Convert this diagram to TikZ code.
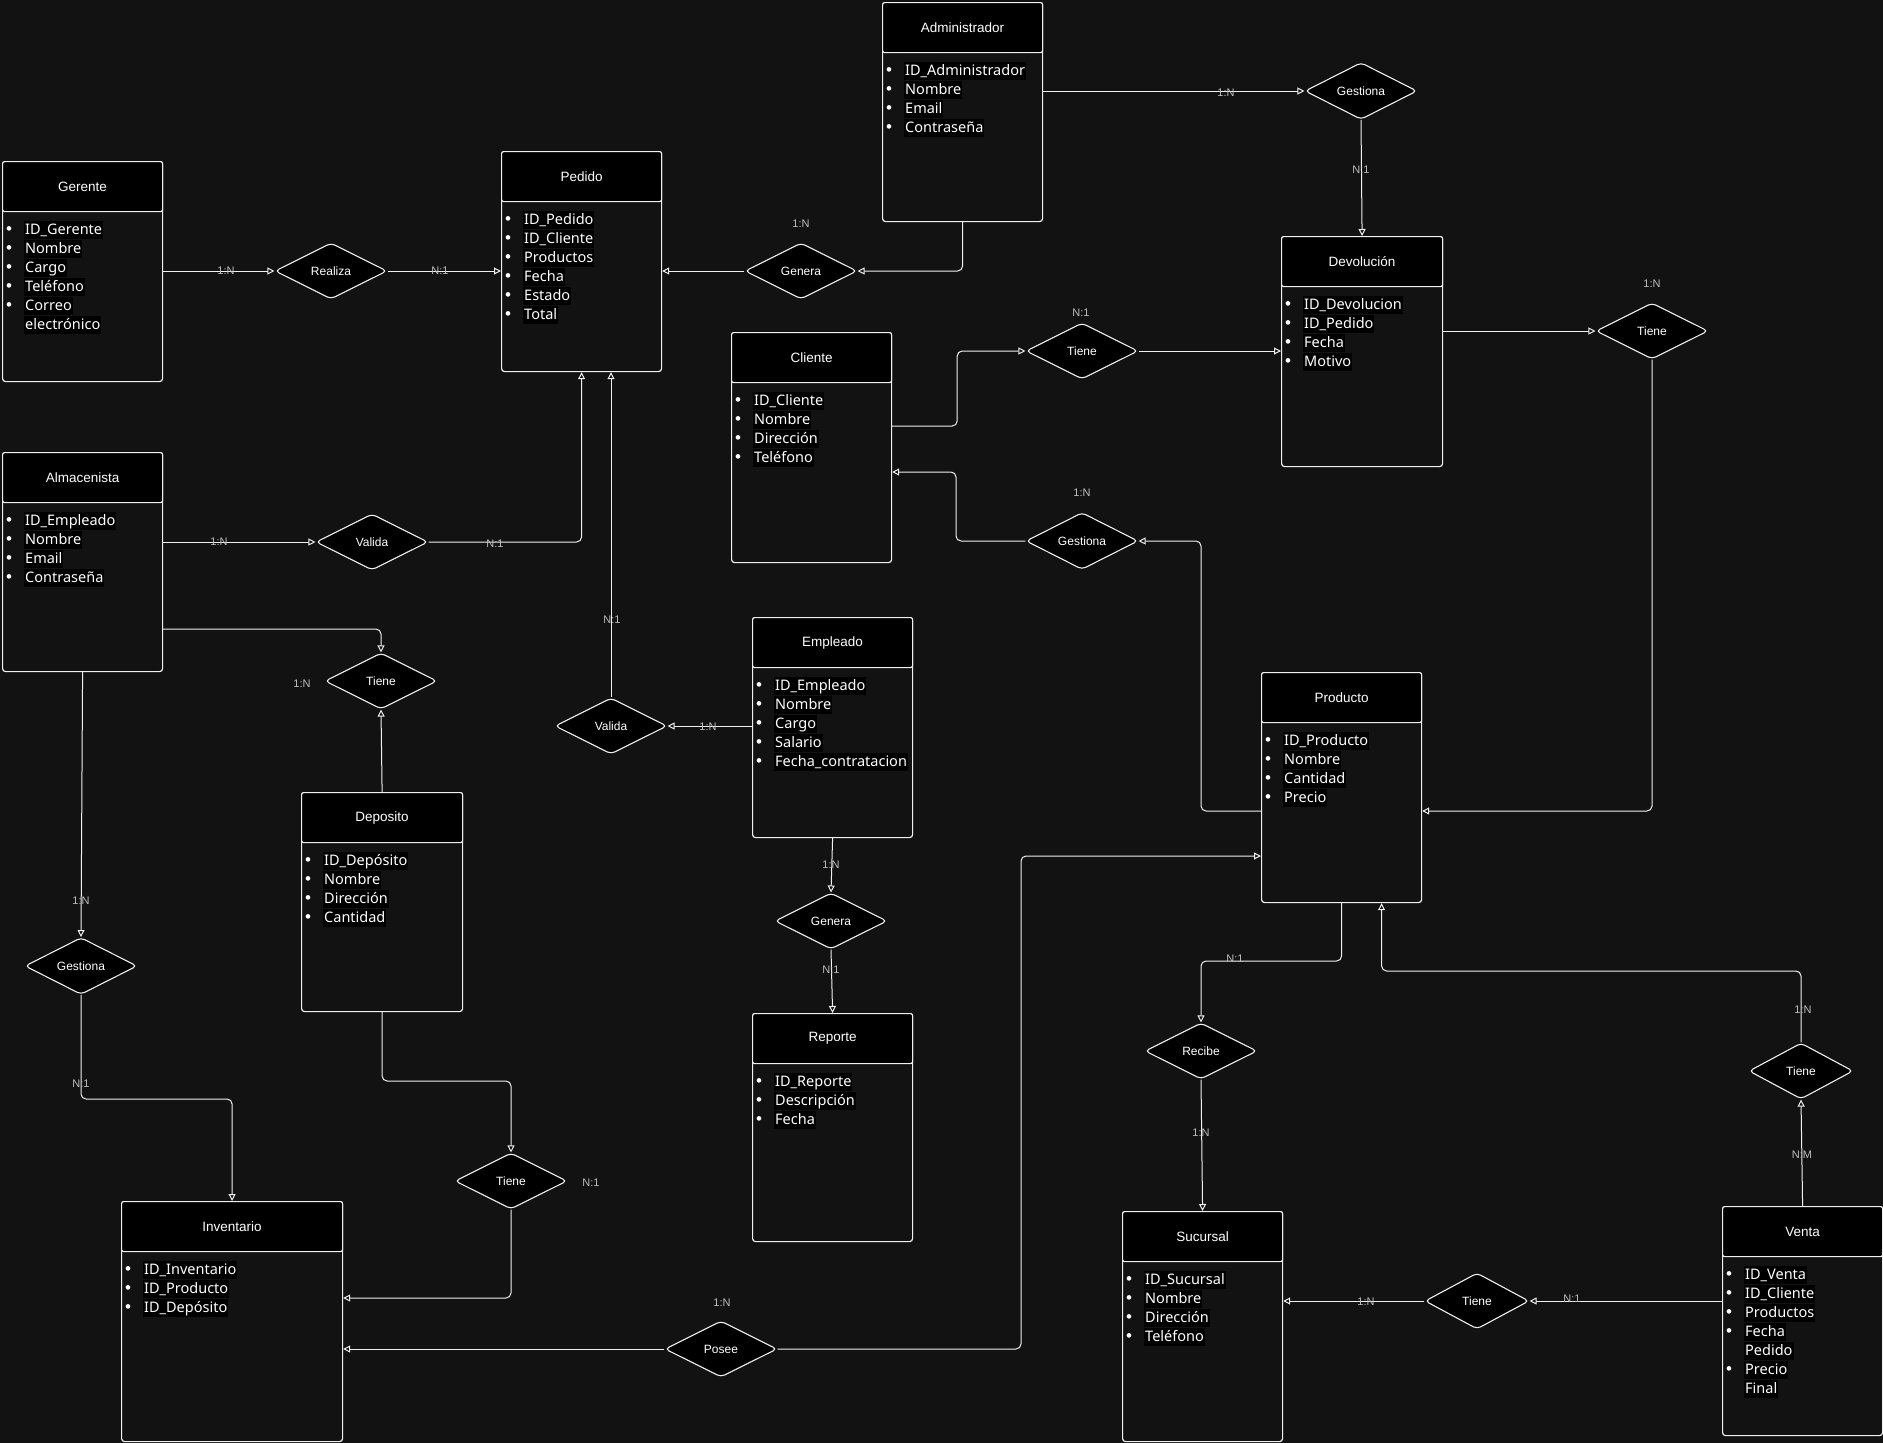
\documentclass[tikz,border=0pt]{standalone}
\usepackage{fontspec}
\setmainfont{Liberation Sans}
\newfontfamily\attrfont{Noto Sans}
\usepackage{xcolor}
\usepackage{tikz}
\usetikzlibrary{arrows.meta, shapes.geometric, positioning}

\definecolor{fondo}{RGB}{18,18,18}
\definecolor{linea}{RGB}{240,240,240}
\definecolor{etiq}{RGB}{190,190,190}

% one attribute line, with the black highlight behind the text
\newcommand{\hlbox}[1]{{\setlength{\fboxsep}{1pt}\colorbox{black}{\rule[-4pt]{0pt}{16pt}#1}}}
\newcommand{\atrib}[1]{\makebox[19pt][l]{\hspace{1pt}{\rmfamily\fontsize{17}{19}\selectfont\textbullet}}\hlbox{#1}}
\newcommand{\atribc}[1]{\hspace{19pt}\hlbox{#1}}

% entity: name, x, y, width, height, title, attributes
\newcommand{\entidad}[7]{%
  \node[entbody, minimum width=#4, minimum height=#5, anchor=north west] (#1) at (#2,#3) {};
  \node[enthead, minimum width=#4, anchor=north west] (#1-t) at (#2,#3) {#6};
  \node[attrs, anchor=north west] (#1-a) at ([xshift=3pt, yshift=-60pt]#1.north west) {#7};
}

\begin{document}
\begin{tikzpicture}[x=1pt, y=-1pt,
    entbody/.style={draw=linea, fill=fondo, line width=1.2pt, rounded corners=3pt, inner sep=0pt},
    enthead/.style={draw=linea, fill=black, line width=1.2pt, rounded corners=2pt, minimum height=50pt,
      inner sep=0pt, text=white, font=\fontsize{13.5}{16}\selectfont},
    attrs/.style={inner sep=0pt, align=left, text=white, font=\attrfont\fontsize{14.5}{19}\selectfont},
    rel/.style={diamond, draw=linea, fill=black, line width=1.1pt, minimum width=112pt, minimum height=56pt,
      inner sep=0pt, rounded corners=4pt, text=white, font=\fontsize{12}{14}\selectfont},
    card/.style={text=etiq, inner sep=1pt, font=\fontsize{11}{13}\selectfont},
    conn/.style={draw=linea, line width=1pt, rounded corners=5pt},
    arr/.style={conn, -{Triangle[open, length=7pt, width=7pt]}}]

  % canvas
  \fill[fondo] (0,0) rectangle (1883,1443);
  \useasboundingbox (0,0) rectangle (1883,1443);

  % entities
  \entidad{ger}{2}{161}{160pt}{220pt}{Gerente}{\atrib{ID\_Gerente}\\\atrib{Nombre}\\\atrib{Cargo}\\\atrib{Teléfono}\\\atrib{Correo}\\\atribc{electrónico}}
  \entidad{ped}{501}{151}{160pt}{220pt}{Pedido}{\atrib{ID\_Pedido}\\\atrib{ID\_Cliente}\\\atrib{Productos}\\\atrib{Fecha}\\\atrib{Estado}\\\atrib{Total}}
  \entidad{adm}{882}{2}{160pt}{219pt}{Administrador}{\atrib{ID\_Administrador}\\\atrib{Nombre}\\\atrib{Email}\\\atrib{Contraseña}}
  \entidad{cli}{731}{332}{160pt}{230pt}{Cliente}{\atrib{ID\_Cliente}\\\atrib{Nombre}\\\atrib{Dirección}\\\atrib{Teléfono}}
  \entidad{dev}{1281}{236}{161pt}{230pt}{Devolución}{\atrib{ID\_Devolucion}\\\atrib{ID\_Pedido}\\\atrib{Fecha}\\\atrib{Motivo}}
  \entidad{alm}{2}{452}{160pt}{219pt}{Almacenista}{\atrib{ID\_Empleado}\\\atrib{Nombre}\\\atrib{Email}\\\atrib{Contraseña}}
  \entidad{emp}{752}{617}{160pt}{220pt}{Empleado}{\atrib{ID\_Empleado}\\\atrib{Nombre}\\\atrib{Cargo}\\\atrib{Salario}\\\atrib{Fecha\_contratacion}}
  \entidad{pro}{1261}{672}{160pt}{230pt}{Producto}{\atrib{ID\_Producto}\\\atrib{Nombre}\\\atrib{Cantidad}\\\atrib{Precio}}
  \entidad{rep}{752}{1013}{160pt}{228pt}{Reporte}{\atrib{ID\_Reporte}\\\atrib{Descripción}\\\atrib{Fecha}}
  \entidad{dep}{301}{792}{161pt}{219pt}{Deposito}{\atrib{ID\_Depósito}\\\atrib{Nombre}\\\atrib{Dirección}\\\atrib{Cantidad}}
  \entidad{inv}{121}{1201}{221pt}{240pt}{Inventario}{\atrib{ID\_Inventario}\\\atrib{ID\_Producto}\\\atrib{ID\_Depósito}}
  \entidad{suc}{1122}{1211}{160pt}{230pt}{Sucursal}{\atrib{ID\_Sucursal}\\\atrib{Nombre}\\\atrib{Dirección}\\\atrib{Teléfono}}
  \entidad{ven}{1722}{1206}{160pt}{229pt}{Venta}{\atrib{ID\_Venta}\\\atrib{ID\_Cliente}\\\atrib{Productos}\\\atrib{Fecha}\\\atribc{Pedido}\\\atrib{Precio}\\\atribc{Final}}

  % relationships
  \node[rel] (rea) at (331,271) {Realiza};
  \node[rel] (genP) at (801,271) {Genera};
  \node[rel] (gesA) at (1361,91) {Gestiona};
  \node[rel] (tieCD) at (1082,351) {Tiene};
  \node[rel] (gesC) at (1082,541) {Gestiona};
  \node[rel] (tieDP) at (1652,331) {Tiene};
  \node[rel] (valA) at (372,542) {Valida};
  \node[rel] (tieAD) at (381,681) {Tiene};
  \node[rel] (valE) at (611,726) {Valida};
  \node[rel] (genE) at (831,921) {Genera};
  \node[rel] (gesI) at (81,966) {Gestiona};
  \node[rel] (tieDI) at (511,1181) {Tiene};
  \node[rel] (pos) at (721,1349) {Posee};
  \node[rel] (rec) at (1201,1051) {Recibe};
  \node[rel, minimum width=104pt] (tieSV) at (1477,1301) {Tiene};
  \node[rel, minimum width=104pt] (tieVP) at (1801,1071) {Tiene};
  \coordinate (proB) at ([xshift=40pt]pro.south);

  % connectors
  \draw[arr] (ger.east |- rea) -- (rea.west);
  \draw[arr] (rea.east) -- (ped.west |- rea);
  \draw[arr] (genP.west) -- (ped.east |- genP);
  \draw[arr] (adm.south) |- (genP.east);
  \draw[arr] (adm.east |- gesA) -- (gesA.west);
  \draw[arr] (gesA.south) -- (dev.north);
  \draw[arr] (cli.east |- 0,426) -- ++(65,0) |- (tieCD.west);
  \draw[arr] (tieCD.east) -- (dev.west |- tieCD);
  \draw[arr] (dev.east |- tieDP) -- (tieDP.west);
  \draw[arr] (tieDP.south) |- (pro.east |- 0,811);
  \draw[arr] (gesC.west) -| (956,472) -- (cli.east |- 0,472);
  \draw[arr] (pro.west |- 0,811) -| (1201,541) -- (gesC.east);
  \draw[arr] (alm.east |- valA) -- (valA.west);
  \draw[arr] (valA.east) -| (ped.south);
  \draw[arr] (valE.north) -- (valE.north |- ped.south);
  \draw[arr] (emp.west |- valE) -- (valE.east);
  \draw[arr] (alm.east |- 0,629) -| (tieAD.north);
  \draw[arr] (dep.north) -- (tieAD.south);
  \draw[arr] (alm.south) -- (gesI.north);
  \draw[arr] (gesI.south) |- (inv.north |- 0,1099) -- (inv.north);
  \draw[arr] (dep.south) |- (tieDI.north |- 0,1081) -- (tieDI.north);
  \draw[arr] (tieDI.south) |- (inv.east |- 0,1298);
  \draw[arr] (pos.west) -- (inv.east |- pos.west);
  \draw[arr] (pos.east) -| (1021,856) -- (pro.west |- 0,856);
  \draw[arr] (emp.south) -- (genE.north);
  \draw[arr] (genE.south) -- (rep.north);
  \draw[arr] (pro.south) |- (rec.north |- 0,961) -- (rec.north);
  \draw[arr] (rec.south) -- (suc.north);
  \draw[arr] (tieVP.north) |- (proB |- 0,971) -- (proB);
  \draw[arr] (ven.north) -- (tieVP.south);
  \draw[arr] (ven.west |- tieSV) -- (tieSV.east);
  \draw[arr] (tieSV.west) -- (suc.east |- tieSV);

  % cardinalities
  \node[card] (l1) at (226,271) {1:N};
  \node[card] (l2) at (440,271) {N:1};
  \node[card] (l3) at (801,224) {1:N};
  \node[card] (l4) at (1226,93) {1:N};
  \node[card] (l5) at (1361,170) {N:1};
  \node[card] (l6) at (1081,313) {N:1};
  \node[card] (l7) at (1652,284) {1:N};
  \node[card] (l8) at (1082,493) {1:N};
  \node[card] (l9) at (219,542) {1:N};
  \node[card] (l10) at (495,544) {N:1};
  \node[card] (l11) at (612,620) {N:1};
  \node[card] (l12) at (708,727) {1:N};
  \node[card] (l13) at (302,684) {1:N};
  \node[card] (l14) at (81,901) {1:N};
  \node[card] (l15) at (81,1084) {N:1};
  \node[card] (l16) at (591,1183) {N:1};
  \node[card] (l17) at (722,1303) {1:N};
  \node[card] (l18) at (831,865) {1:N};
  \node[card] (l19) at (831,970) {N:1};
  \node[card] (l20) at (1235,959) {N:1};
  \node[card] (l21) at (1201,1133) {1:N};
  \node[card] (l22) at (1803,1010) {1:N};
  \node[card] (l23) at (1802,1155) {N:M};
  \node[card] (l24) at (1572,1299) {N:1};
  \node[card] (l25) at (1366,1302) {1:N};
\end{tikzpicture}
\end{document}
